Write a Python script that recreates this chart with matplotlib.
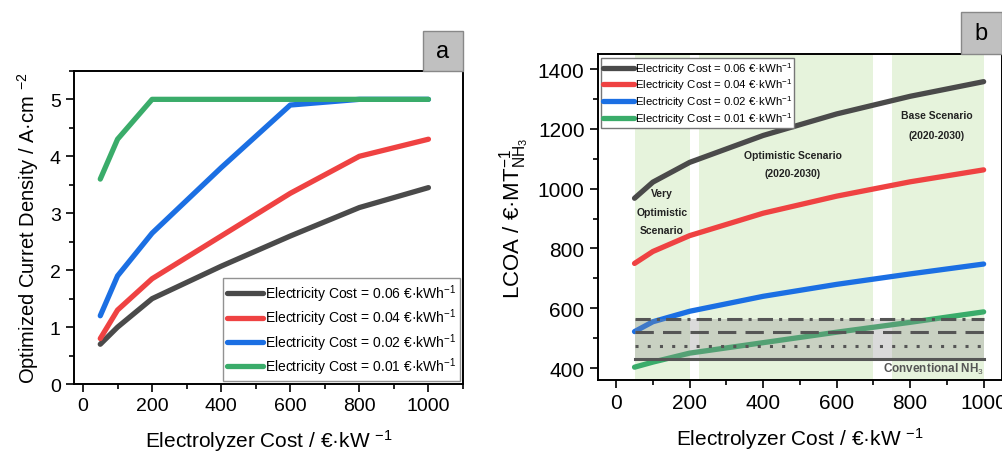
import matplotlib
matplotlib.use("Agg")
import matplotlib.pyplot as plt
from matplotlib.patches import Rectangle
from matplotlib.ticker import MultipleLocator

plt.rcParams['font.family'] = ['Liberation Sans', 'DejaVu Sans']
plt.rcParams['mathtext.fontset'] = 'custom'
plt.rcParams['mathtext.rm'] = 'Liberation Sans'
plt.rcParams['mathtext.it'] = 'Liberation Sans'

# ---------------- data ----------------
electrolyzer_cost = [50, 100, 200, 400, 600, 800, 1000]
series_labels = ["Electricity Cost = 0.06 €·kWh$^{-1}$",
                 "Electricity Cost = 0.04 €·kWh$^{-1}$",
                 "Electricity Cost = 0.02 €·kWh$^{-1}$",
                 "Electricity Cost = 0.01 €·kWh$^{-1}$"]
colors = ["#4a4a4a", "#ef4242", "#1b6fe3", "#3aac6a"]

# panel a: optimized current density (A/cm2)
cd_006 = [0.70, 1.00, 1.50, 2.07, 2.60, 3.10, 3.45]
cd_004 = [0.80, 1.30, 1.85, 2.60, 3.35, 4.00, 4.30]
cd_002 = [1.20, 1.90, 2.65, 3.80, 4.90, 5.00, 5.00]
cd_001 = [3.60, 4.30, 5.00, 5.00, 5.00, 5.00, 5.00]

# panel b: LCOA (EUR / MT NH3)
lcoa_006 = [968, 1022, 1088, 1178, 1250, 1309, 1358]
lcoa_004 = [750, 790, 843, 918, 975, 1023, 1063]
lcoa_002 = [522, 555, 590, 640, 680, 715, 748]
lcoa_001 = [403, 420, 450, 485, 520, 553, 588]

# scenario bands (electrolyzer cost ranges)
scenario_ranges = [(50, 200), (225, 700), (750, 1000)]
# conventional NH3 reference levels
conv_levels = [430, 475, 520, 565]
conv_styles = ['-', (0, (1, 3)), (0, (6, 3)), (0, (5, 2, 1, 2))]
conv_xrange = (50, 1000)

# ---------------- figure ----------------
fig = plt.figure(figsize=(10.03, 4.52), dpi=100)

def style_axes(ax, labelsize):
    ax.tick_params(which='both', direction='out', top=False, right=False)
    ax.tick_params(which='major', length=6, width=1.2, labelsize=labelsize)
    ax.tick_params(which='minor', length=3.5, width=1.2)
    for s in ax.spines.values():
        s.set_linewidth(1.4)

# ---- panel a ----
axa = fig.add_axes([0.0738, 0.148, 0.3878, 0.693])
for vals, c, lab in zip([cd_006, cd_004, cd_002, cd_001], colors, series_labels):
    axa.plot(electrolyzer_cost, vals, color=c, lw=3.8, label=lab,
             solid_capstyle='round', solid_joinstyle='round')
axa.set_xlim(-26, 1100)
axa.set_ylim(0, 5.5)
axa.xaxis.set_major_locator(MultipleLocator(200))
axa.xaxis.set_minor_locator(MultipleLocator(100))
axa.yaxis.set_major_locator(MultipleLocator(1))
axa.yaxis.set_minor_locator(MultipleLocator(0.5))
style_axes(axa, 14)
axa.set_xlabel("Electrolyzer Cost / €·kW $^{-1}$", fontsize=15, labelpad=9)
axa.set_ylabel("Optimized Curret Density / A·cm $^{-2}$", fontsize=14.5, labelpad=6)
lega = axa.legend(loc='lower right', fontsize=10, frameon=True, fancybox=False,
                  handlelength=2.6, handletextpad=0.1, borderpad=0.3,
                  labelspacing=0.2, borderaxespad=0.2)
lega.get_frame().set_edgecolor('#777777')
lega.get_frame().set_linewidth(1.0)

# ---- panel b ----
axb = fig.add_axes([0.596, 0.157, 0.403, 0.721])
for x0, x1 in scenario_ranges:
    axb.axvspan(x0, x1, color='#e6f3dc', zorder=0, lw=0)
lines_b = []
for vals, c, lab in zip([lcoa_006, lcoa_004, lcoa_002, lcoa_001], colors, series_labels):
    ln, = axb.plot(electrolyzer_cost, vals, color=c, lw=3.8, label=lab,
                   solid_capstyle='round', solid_joinstyle='round', zorder=2)
    lines_b.append(ln)
axb.fill_between(conv_xrange, conv_levels[0], conv_levels[-1],
                 color='#8c8c8c', alpha=0.32, lw=0, zorder=3)
for lvl, ls in zip(conv_levels, conv_styles):
    axb.plot(conv_xrange, [lvl, lvl], color='#555555', lw=2.2, ls=ls, zorder=4)
axb.set_xlim(-50, 1050)
axb.set_ylim(360, 1450)
axb.xaxis.set_major_locator(MultipleLocator(200))
axb.xaxis.set_minor_locator(MultipleLocator(100))
axb.yaxis.set_major_locator(MultipleLocator(200))
axb.yaxis.set_minor_locator(MultipleLocator(100))
style_axes(axb, 15)
axb.set_xlabel("Electrolyzer Cost / €·kW $^{-1}$", fontsize=15, labelpad=9)
axb.set_ylabel("LCOA / €·MT$^{-1}_{\\mathrm{NH_3}}$", fontsize=16, labelpad=4)
legb = axb.legend(handles=lines_b, loc='upper left', fontsize=8.2, frameon=True,
                  fancybox=False, handlelength=2.7, handletextpad=0.05,
                  borderpad=0.2, labelspacing=0.08, borderaxespad=0.3)
legb.get_frame().set_edgecolor('#777777')
legb.get_frame().set_linewidth(1.0)
legb.get_frame().set_alpha(1)
legb.set_zorder(6)

tkw = dict(fontsize=7.5, fontweight='bold', ha='center', va='center', color='#222222', zorder=5)
axb.text(125, 985, "Very", **tkw)
axb.text(125, 922, "Optimistic", **tkw)
axb.text(125, 862, "Scenario", **tkw)
axb.text(481, 1112, "Optimistic Scenario", **tkw)
axb.text(481, 1052, "(2020-2030)", **tkw)
axb.text(872, 1246, "Base Scenario", **tkw)
axb.text(872, 1180, "(2020-2030)", **tkw)
axb.text(1000, 399, "Conventional NH$_3$", fontsize=8.5, fontweight='bold',
         ha='right', va='center', color='#555555', zorder=5)

# ---- panel letter boxes ----
for (x0, y0, w, h), letter in [((0.4217, 0.8407, 0.0399, 0.0885), 'a'),
                               ((0.958, 0.8783, 0.041, 0.0929), 'b')]:
    fig.patches.append(Rectangle((x0, y0), w, h, transform=fig.transFigure,
                                 facecolor='#c0c0c0', edgecolor='#888888', lw=1.0))
    fig.text(x0 + w / 2, y0 + h / 2, letter, fontsize=17, ha='center', va='center')

fig.savefig("out.png", dpi=100)
